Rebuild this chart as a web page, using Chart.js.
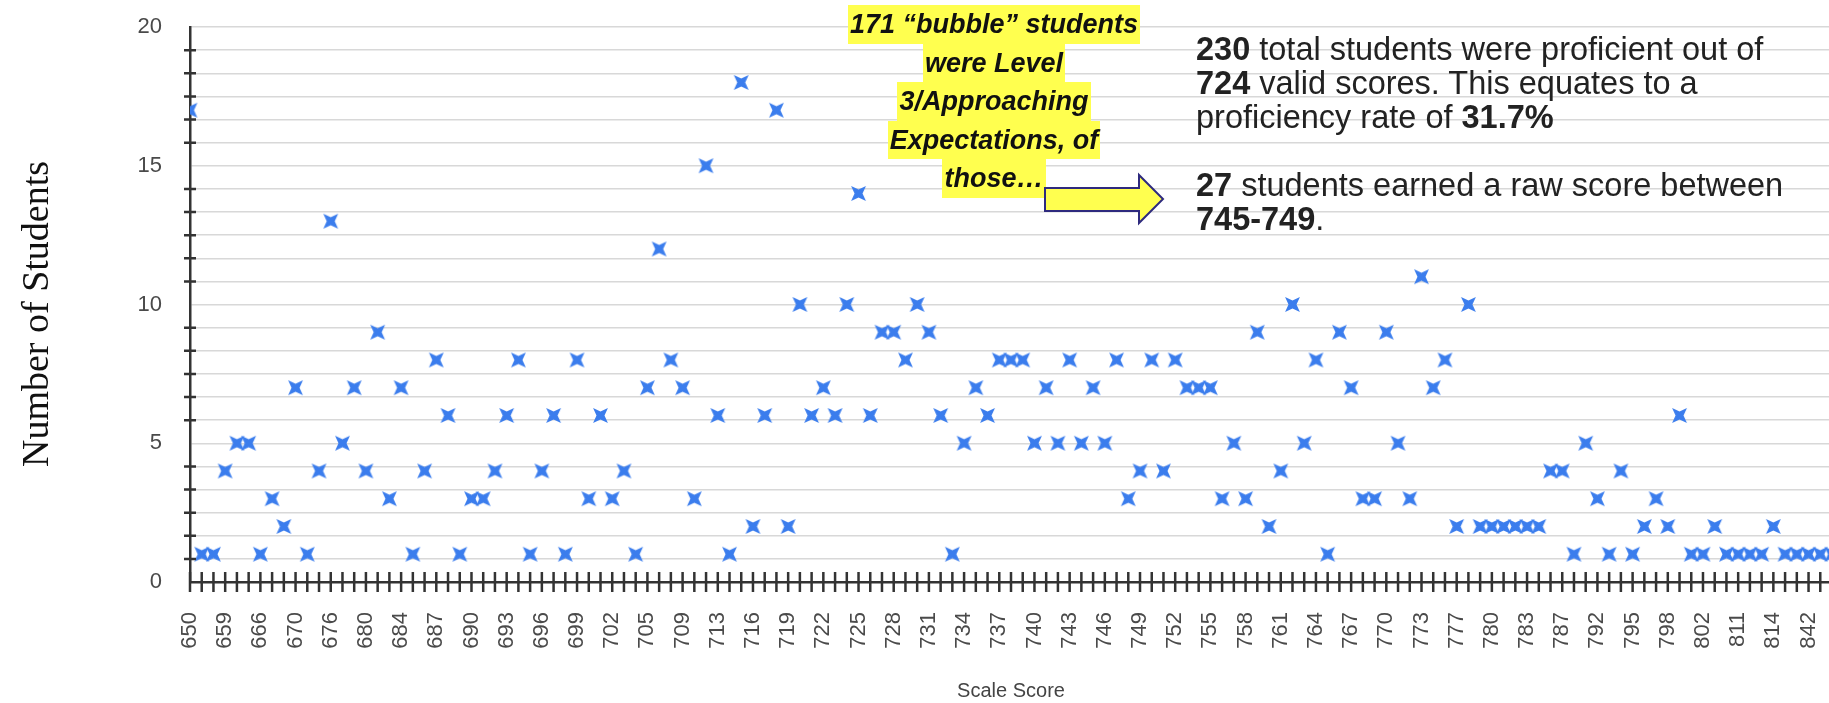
<!DOCTYPE html>
<html>
<head>
<meta charset="utf-8">
<script src="https://cdn.jsdelivr.net/npm/chart.js@4.4.0/dist/chart.umd.min.js"></script>
<style>
html, body { margin: 0; padding: 0; overflow: hidden; background: #fff; width: 1829px; height: 703px; }
#wrap { position: absolute; left: 0; top: 0; width: 1843px; height: 703px; }
.bubble { position: absolute; left: 794px; top: 5px; width: 400px; text-align: center;
  font: italic bold 27px "Liberation Sans", Arial, sans-serif; color: #111; }
.bubble span { display: inline-block; background: #ffff4f; line-height: 38.5px; padding: 0 2px; }
.note { position: absolute; left: 1196px; top: 32px; font: 32.5px "Liberation Sans", Arial, sans-serif;
  color: #222; line-height: 34px; white-space: nowrap; }
#arrow { position: absolute; left: 0; top: 0; }
</style>
</head>
<body>
<div id="wrap"><canvas id="chart_1"></canvas></div>

<div class="bubble">
  <span>171 “bubble” students</span><br>
  <span>were Level</span><br>
  <span>3/Approaching</span><br>
  <span>Expectations, of</span><br>
  <span>those…</span>
</div>

<svg id="arrow" width="1829" height="703">
  <polygon points="1045,188 1139,188 1139,175 1163,199 1139,223 1139,211 1045,211"
    fill="#ffff4f" stroke="#2e2a7e" stroke-width="2"/>
</svg>

<div class="note">
  <b>230</b> total students were proficient out of<br>
  <b>724</b> valid scores. This equates to a<br>
  proficiency rate of <b>31.7%</b><br>
  <br>
  <b>27</b> students earned a raw score between<br>
  <b>745-749</b>.
</div>

<script>
//Scale scores on the x axis, only every third one gets a label
let scores = [650, 653, 656, 659, 661, 664, 666, 667, 669, 670, 672, 674, 676, 677, 679, 680, 681, 683,
  684, 685, 686, 687, 688, 689, 690, 691, 692, 693, 694, 695, 696, 697, 698, 699, 700, 701,
  702, 703, 704, 705, 707, 708, 709, 711, 712, 713, 714, 715, 716, 717, 718, 719, 720, 721,
  722, 723, 724, 725, 726, 727, 728, 729, 730, 731, 732, 733, 734, 735, 736, 737, 738, 739,
  740, 741, 742, 743, 744, 745, 746, 747, 748, 749, 750, 751, 752, 753, 754, 755, 756, 757,
  758, 759, 760, 761, 762, 763, 764, 765, 766, 767, 768, 769, 770, 771, 772, 773, 775, 776,
  777, 778, 779, 780, 781, 782, 783, 785, 786, 787, 789, 791, 792, 793, 794, 795, 796, 797,
  798, 799, 801, 802, 804, 807, 811, 812, 813, 814, 818, 825, 842, 846, 851];

//Number of students at each scale score
let students = [17, 1, 1, 4, 5, 5, 1, 3, 2, 7, 1, 4, 13, 5, 7, 4, 9, 3,
  7, 1, 4, 8, 6, 1, 3, 3, 4, 6, 8, 1, 4, 6, 1, 8, 3, 6,
  3, 4, 1, 7, 12, 8, 7, 3, 15, 6, 1, 18, 2, 6, 17, 2, 10, 6,
  7, 6, 10, 14, 6, 9, 9, 8, 10, 9, 6, 1, 5, 7, 6, 8, 8, 8,
  5, 7, 5, 8, 5, 7, 5, 8, 3, 4, 8, 4, 8, 7, 7, 7, 3, 5,
  3, 9, 2, 4, 10, 5, 8, 1, 9, 7, 3, 3, 9, 5, 3, 11, 7, 8,
  2, 10, 2, 2, 2, 2, 2, 2, 4, 4, 1, 5, 3, 1, 4, 1, 2, 3,
  2, 6, 1, 1, 2, 1, 1, 1, 1, 2, 1, 1, 1, 1, 1];

//Labelled y values, grid lines come every 5/6 of a student
let y_labels = [0, 5, 10, 15, 20];
let y_max = 20;
let minor_per_major = 6;

let axis_color = '#333';
let marker_color = '#3b7ded';

//Star shaped x marker like the original
const makeMarker = (size, color) => {
    let c = document.createElement('canvas');
    c.width = size;
    c.height = size;
    let g = c.getContext('2d');
    let r = size / 2;
    let ri = size * 0.19;
    g.translate(r, r);
    g.rotate(Math.PI / 4);
    g.beginPath();
    for (let k = 0; k < 8; k++) {
        let rad = k % 2 === 0 ? r : ri;
        let a = k * Math.PI / 4;
        g.lineTo(rad * Math.cos(a), rad * Math.sin(a));
    }
    g.closePath();
    g.fillStyle = color;
    g.fill();
    return c;
}

//Tick marks that cross the axis lines
const crossTicks = {
    id: 'crossTicks',
    afterDraw(chart) {
        let ctx = chart.ctx;
        let area = chart.chartArea;
        let xs = chart.scales.x;
        let ys = chart.scales.y;
        ctx.save();
        ctx.strokeStyle = axis_color;
        ctx.lineWidth = 2.5;
        ctx.beginPath();
        scores.forEach((s, i) => {
            let px = xs.getPixelForValue(i);
            if (px > area.right + 1) return;
            ctx.moveTo(px, area.bottom - 10);
            ctx.lineTo(px, area.bottom + 10);
        });
        ys.ticks.forEach(t => {
            let r = Math.round(t.value);
            if (Math.abs(t.value - r) < 1e-6 && y_labels.includes(r)) return;
            let py = ys.getPixelForValue(t.value);
            ctx.moveTo(area.left - 6, py);
            ctx.lineTo(area.left + 6, py);
        });
        ctx.stroke();
        ctx.restore();
    }
}

Chart.defaults.font.family = '"Liberation Sans", Arial, sans-serif';

let chart_canvas1 = document.getElementById('chart_1');
let chart = new Chart(chart_canvas1, {
    type: 'line',
    data: {
        labels: scores,
        datasets: [{
            data: students,
            showLine: false,
            pointStyle: makeMarker(21, marker_color),
            pointRadius: 10,
            pointHoverRadius: 10,
            clip: { left: 0, top: 20, right: 0, bottom: 20 }
        }]
    },
    options: {
        responsive: true,
        maintainAspectRatio: false,
        animation: false,
        layout: { padding: { top: 27, left: 0, right: 5, bottom: 0 } },
        plugins: { legend: { display: false }, tooltip: { enabled: false } },
        scales: {
            x: {
                type: 'category',
                offset: false,
                grid: { display: false, drawTicks: false },
                border: { color: axis_color, width: 2.5 },
                afterFit: s => {
                    s.height = 121;
                    s.paddingLeft = 0;
                    s.paddingRight = 0;
                },
                ticks: {
                    autoSkip: false,
                    minRotation: 90,
                    maxRotation: 90,
                    padding: 30,
                    color: '#4a4a4a',
                    font: { size: 22 },
                    callback: (v, i) => i % 3 === 0 ? String(scores[i]) : ''
                },
                title: {
                    display: true,
                    text: 'Scale Score',
                    color: '#444',
                    font: { size: 20, lineHeight: 1 },
                    padding: { top: 0, bottom: 2 }
                }
            },
            y: {
                min: 0,
                max: y_max,
                grid: { color: '#d8d8d8', lineWidth: 1.5, drawTicks: false },
                border: { color: axis_color, width: 2.5 },
                afterFit: s => {
                    s.width = 190;
                    s.paddingTop = 0;
                    s.paddingBottom = 0;
                },
                afterBuildTicks: s => {
                    let n = (y_max / 5) * minor_per_major;
                    let t = [];
                    for (let k = 0; k <= n; k++) t.push({ value: k * 5 / minor_per_major });
                    s.ticks = t;
                },
                ticks: {
                    autoSkip: false,
                    padding: 28,
                    color: '#4a4a4a',
                    font: { size: 22 },
                    callback: v => {
                        let r = Math.round(v);
                        return Math.abs(v - r) < 1e-6 && y_labels.includes(r) ? String(r) : '';
                    }
                },
                title: {
                    display: true,
                    //two trailing spaces nudge the rotated title a bit lower, as in the original
                    text: 'Number of Students\u00a0\u00a0',
                    color: '#111',
                    font: { family: '"Liberation Serif", "Times New Roman", serif', size: 38, lineHeight: 1 },
                    padding: { top: 19, bottom: 0 }
                }
            }
        }
    },
    plugins: [crossTicks]
});
</script>
</body>
</html>
